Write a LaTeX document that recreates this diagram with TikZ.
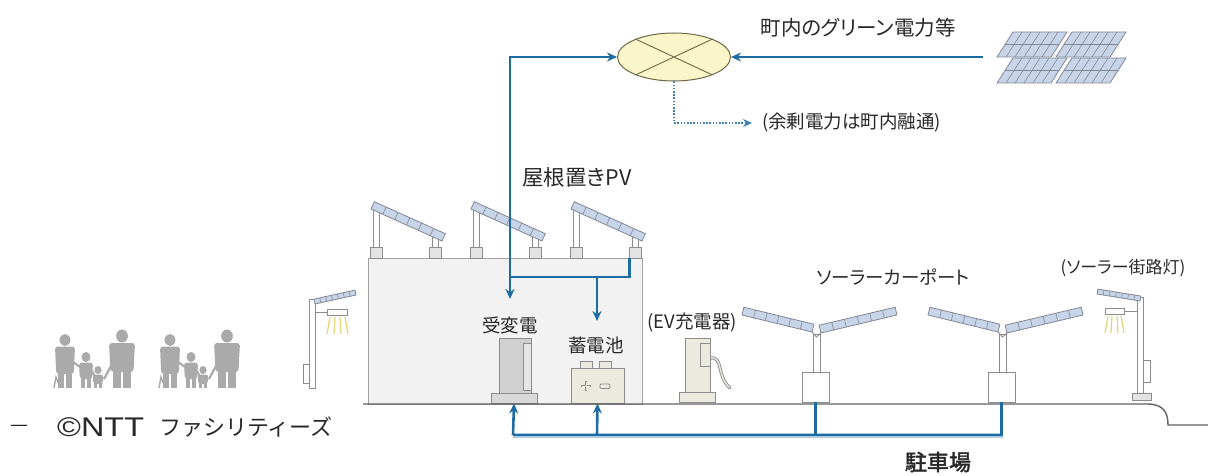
\documentclass[tikz,border=0pt]{standalone}
\usepackage{fontspec}
\newfontfamily\jp{Noto Sans CJK JP}[RawFeature=+palt]
\newfontfamily\jpfull{Noto Sans CJK JP}
\newfontfamily\jpbold{Noto Sans CJK JP}[RawFeature=+palt,FakeBold=2]
\newfontfamily\latin{Liberation Sans}
\usetikzlibrary{shapes.geometric,arrows.meta,calc}

\definecolor{flowblue}{RGB}{30,108,164}
\definecolor{ink}{RGB}{40,40,40}
\definecolor{kitgray}{RGB}{140,140,140}
\definecolor{pvfill}{RGB}{200,213,232}
\definecolor{pvline}{RGB}{128,136,150}
\definecolor{hubfill}{RGB}{251,245,202}
\definecolor{hubline}{RGB}{110,104,70}
\definecolor{wallfill}{RGB}{242,242,242}
\definecolor{crowdgray}{RGB}{170,170,170}
\definecolor{raycol}{RGB}{226,212,120}
\definecolor{beige}{RGB}{236,233,222}
\definecolor{steel}{RGB}{208,208,208}

\tikzset{
  flow/.style={draw=flowblue, line width=2.6pt},
  tip/.style={-{Stealth[length=10pt,width=9pt]}},
  kit/.style={draw=kitgray, line width=0.9pt, fill=white},
  pv/.style={draw=pvline, line width=0.8pt, fill=pvfill},
  pvgrid/.style={draw=pvline, line width=0.6pt},
  lbl/.style={text=ink, inner sep=0pt, font=\jp},
  crowd/.style={fill=crowdgray},
  ray/.style={draw=raycol, line width=1.2pt},
  block/.style={kit, rectangle, inner sep=0pt},
}

% slanted solar panel bar: lower edge #1 -> #2, thickness #3, #4 cell dividers
\newcommand\pvbar[4]{%
  \coordinate (pA) at (#1);
  \coordinate (pB) at (#2);
  \coordinate (pN) at ($(pA)!#3!90:(pB)$);
  \coordinate (pM) at ($(pB)!#3!-90:(pA)$);
  \filldraw[pv] (pA) -- (pB) -- (pM) -- (pN) -- cycle;
  \foreach \k in {1,...,#4}
    \draw[pvgrid] ($(pA)!{\k/(#4+1)}!(pB)$) -- ($(pN)!{\k/(#4+1)}!(pM)$);
}

% one silhouette: x, head y, head radius, shoulder width, hip y
\newcommand\walker[5]{%
  \fill[crowd] (#1,#2) ellipse ({#3*0.9} and #3);
  \fill[crowd, rounded corners=3pt] ({#1-#4/2},{#2+#3+0.5}) -- ({#1+#4/2},{#2+#3+0.5})
    -- ({#1+#4*0.44},#5) -- ({#1-#4*0.44},#5) -- cycle;
  \fill[crowd] ({#1-#4*0.36},{#5-2}) rectangle ({#1-0.6},388);
  \fill[crowd] ({#1+0.6},{#5-2}) rectangle ({#1+#4*0.36},388);
}

% flat solar array panel: bottom-left x, bottom y, width
\newcommand\farmpanel[3]{%
  \filldraw[pv] (#1,#2) -- ({#1+#3},#2) -- ({#1+#3+16},{#2-25}) -- ({#1+16},{#2-25}) -- cycle;
  \draw[pvgrid] ({#1+8},{#2-12.5}) -- ({#1+#3+8},{#2-12.5});
  \foreach \k in {1,...,5}
    \draw[pvgrid] ({#1+\k*#3/6},#2) -- ({#1+\k*#3/6+16},{#2-25});
}

\begin{document}
\begin{tikzpicture}[x=1pt,y=-1pt]
\useasboundingbox (0,0) rectangle (1208,476);

% ---------- town grid hub and green power ----------
\node[ellipse, draw=hubline, fill=hubfill, line width=1pt, minimum width=113pt,
      minimum height=48pt, inner sep=0pt] (hub) at (674,57) {};
\draw[hubline, line width=0.9pt] (hub.155) -- (hub.-25) (hub.25) -- (hub.-155);

\node[lbl, font=\jp\fontsize{20.5}{20}\selectfont] (green) at (858,28) {町内のグリーン電力等};

\farmpanel{997}{57}{54}
\farmpanel{1056}{57}{54}
\farmpanel{997}{83}{54}
\farmpanel{1056}{83}{54}
\coordinate (farmin) at (983,57);
\draw[flow, tip] (farmin) -- (hub.east);

\coordinate (spill) at (752,123);
\draw[draw=flowblue!85, line width=1.8pt, dash pattern=on 1.6pt off 1.6pt,
      -{Stealth[length=9pt,width=8pt]}] (hub.south) |- (spill);
\node[lbl, font=\jp\fontsize{18.5}{18}\selectfont, anchor=west] (surplus) at (762,123) {(余剰電力は町内融通)};

% ---------- building ----------
\node[lbl, font=\jp\fontsize{21.5}{21}\selectfont] (roofpv) at (577,177) {屋根置きPV};
\filldraw[fill=wallfill, draw=kitgray!80, line width=1pt] (368,258) rectangle (642,404);

\foreach \x [count=\i] in {370,470,570} {
  \filldraw[kit] (\x+3,205) rectangle (\x+9,247);
  \filldraw[kit] (\x+62,234) rectangle (\x+68,247);
  \pvbar{\x+1,209}{\x+72,241}{8pt}{5}
  \node[block, fill=steel!60, minimum width=12pt, minimum height=11pt] (lb\i) at (\x+6,252.5) {};
  \node[block, fill=steel!60, minimum width=12pt, minimum height=11pt] (rb\i) at (\x+65,252.5) {};
}

% substation
\filldraw[kit, fill=steel] (499,338) rectangle (531,393);
\filldraw[kit, fill=steel!55] (523,343) rectangle (531,390);
\node[block, fill=steel!80, minimum width=46pt, minimum height=10pt] (trbase) at (514,398) {};
\node[lbl, font=\jp\fontsize{18.5}{18}\selectfont] (trlbl) at (510,325) {受変電};

% storage battery
\filldraw[kit, fill=beige] (580,361) rectangle (592,368);
\filldraw[kit, fill=beige] (599,361) rectangle (611,368);
\node[block, fill=beige, minimum width=53pt, minimum height=35pt] (batt) at (597.5,385.5) {};
\draw[kitgray, line width=2.8pt] (581,386) -- (591,386) (586,381) -- (586,391);
\draw[beige, line width=1pt] (582,386) -- (590,386) (586,382) -- (586,390);
\filldraw[kit, fill=beige, rounded corners=1pt] (600,384) rectangle (610,388.5);
\node[lbl, font=\jp\fontsize{18.5}{18}\selectfont] (batlbl) at (596,345) {蓄電池};

% ---------- power flows in the building ----------
\coordinate (j1) at (510,277);
\coordinate (j2) at (597,277);
\coordinate (trin) at (510,299);
\coordinate (batin) at (597,321);
\draw[flow, tip, line join=miter] ([xshift=1pt]rb3.south west) |- (j1) |- (hub.west);
\draw[flow, tip] (j1) -- (trin);
\draw[flow, tip] (j2) -- (batin);

% ---------- EV charger ----------
\node[lbl, font=\jp\fontsize{18.5}{18}\selectfont] (evlbl) at (692,323) {(EV充電器)};
\draw[kitgray, line width=3.2pt, line cap=round] (710,358) .. controls (724,356) and (716,376) .. (730,388);
\draw[beige, line width=1.4pt, line cap=round] (710,358) .. controls (724,356) and (716,376) .. (730,388);
\filldraw[kit, fill=beige] (685,338) rectangle (710,392);
\filldraw[kit, fill=beige] (700,343) rectangle (710,366);
\node[block, fill=beige, minimum width=36pt, minimum height=10pt] (evbase) at (697,397) {};

% ---------- ground ----------
\draw[black!62, line width=1.4pt] (363,404) -- (1147,404)
  .. controls (1163,404) and (1168,412) .. (1168,425) -- (1208,425);

% ---------- solar carports ----------
\node[lbl, font=\jp\fontsize{18.5}{18}\selectfont] (cplbl) at (893,277) {ソーラーカーポート};
\foreach \s [count=\i] in {0,186} {
  \filldraw[kit] (813+\s,334) rectangle (820+\s,372);
  \pvbar{742+\s,315}{812+\s,332}{8pt}{5}
  \pvbar{821+\s,333}{897+\s,315}{8pt}{5}
  \draw[kitgray, line width=0.9pt] (812+\s,332) -- (816.5+\s,337) -- (821+\s,333);
  \node[block, minimum width=27pt, minimum height=30pt] (cp\i) at (815.5+\s,387) {};
}

% ---------- collection line under the site ----------
\coordinate (b1) at (513,435);
\coordinate (b2) at (597,435);
\draw[flowblue!35, line width=5pt] (513,435) -- (1003,435);
\draw[flow, line join=miter] (cp2.south) |- (b1);
\draw[flow] (cp1.south) -- (cp1.south |- b1);
\draw[flow, tip] (b1) -- (trbase.south);
\draw[flow, tip] (b2) -- (batt.south);
\node[lbl, font=\jpbold\fontsize{22}{22}\selectfont] (parking) at (938,462) {駐車場};

% ---------- solar street lights ----------
\node[lbl, font=\jp\fontsize{17}{17}\selectfont] (sllbl) at (1123,268) {(ソーラー街路灯)};
\filldraw[kit] (1137,297) rectangle (1143,393);
\filldraw[kit] (1143,360) rectangle (1150,382);
\node[block, fill=steel!60, minimum width=19pt, minimum height=7pt] (slbase) at (1141.5,396.5) {};
\pvbar{1097,294}{1140,301}{5pt}{6}
\draw[kitgray, line width=0.9pt] (1124,311) -- (1137,311);
\node[block, minimum width=19pt, minimum height=6pt] (lampR) at (1114.5,311) {};
\foreach \a/\b in {1108/1105,1112/1111,1117/1118,1121/1124}
  \draw[ray] (\a,316) -- (\b,333);

\filldraw[kit] (309,299) rectangle (315,388);
\filldraw[kit] (303,364) rectangle (309,383);
\pvbar{315,304}{356,295}{5pt}{6}
\draw[kitgray, line width=0.9pt] (315,312) -- (327,312);
\node[block, minimum width=20pt, minimum height=6pt] (lampL) at (337,312) {};
\foreach \a/\b in {330/327,335/334,340/341,345/348}
  \draw[ray] (\a,317) -- (\b,334);

% ---------- people ----------
\foreach \g in {0,105} {
  \walker{65+\g}{340}{6}{20}{374}
  \walker{86+\g}{357}{5}{14}{379}
  \walker{98+\g}{370}{4}{11}{384}
  \walker{122+\g}{336}{6.5}{26}{372}
  \draw[crowdgray, line width=2.2pt] (73+\g,362) -- (80+\g,367) (92+\g,371) -- (95+\g,377) (104+\g,379) -- (111+\g,366);
  \draw[crowdgray, line width=1.4pt] (54+\g,388) -- (56+\g,377) -- (60+\g,388);
}

% ---------- credit ----------
\node[lbl, font=\jpfull\fontsize{20}{20}\selectfont] (dash) at (19,428) {—};
\node[lbl, font=\latin\fontsize{27}{27}\selectfont, anchor=west] (creditA) at (57,427) {\scalebox{1.2}[1]{©NTT}};
\node[lbl, font=\jpfull\fontsize{22}{22}\selectfont, anchor=west] (creditB) at (159,427) {ファシリティーズ};
\end{tikzpicture}
\end{document}
